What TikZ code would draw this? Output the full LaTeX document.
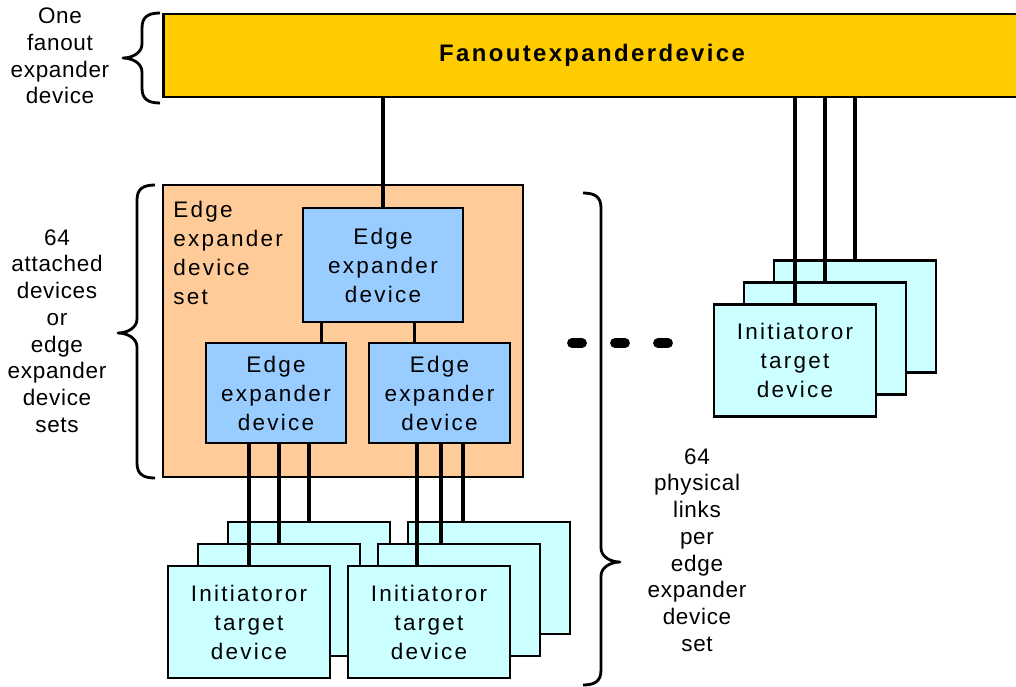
\documentclass[tikz,border=0pt]{standalone}
\usepackage{fontspec}
\setmainfont{Liberation Sans}
\newfontfamily\boxfont[LetterSpace=10]{Liberation Sans}
\newfontfamily\sidefont[LetterSpace=3]{Liberation Sans}
\usetikzlibrary{calc}

\definecolor{fanoutyellow}{HTML}{FFCC00}
\definecolor{setorange}{HTML}{FFCC99}
\definecolor{edgeblue}{HTML}{99CCFF}
\definecolor{cardcyan}{HTML}{CCFFFF}

\tikzset{
    every node/.style={inner sep=0pt, align=center},
    box/.style={draw, line width=2pt,
        font=\boxfont\fontsize{16}{20.6}\selectfont},
    edgebox/.style={box, fill=edgeblue},
    card/.style={box, fill=cardcyan, minimum width=4.05cm, minimum height=2.8cm},
    sidetext/.style={font=\sidefont\fontsize{16}{19}\selectfont}
}
\tikzset{
    wire/.style={draw, line width=2.2pt},
    curlybrace/.style={line width=2pt, line join=round},
    dotdash/.style={line width=7pt, line cap=round}
}

% three stacked cards, #2,#3 = centre of the front one
\newcommand{\cardstack}[3]{%
    \node[card] (#1-3) at (#2+60,#3-44) {};
    \node[card] (#1-2) at (#2+30,#3-22) {};
    \node[card] (#1-1) at (#2,#3) {Initiatoror\\target\\device};
}

% curly brace: end x, side (+1 / -1), top y, tip y, bottom y
\newcommand{\curly}[5]{%
    \draw[curlybrace] (#1,#3)
        .. controls ({#1+#2*12},#3) and ({#1+#2*18},#3+4) .. ({#1+#2*18},#3+15)
        -- ({#1+#2*18},#4-14)
        .. controls ({#1+#2*18},#4-5) and ({#1+#2*28},#4) .. ({#1+#2*37},#4)
        .. controls ({#1+#2*28},#4) and ({#1+#2*18},#4+5) .. ({#1+#2*18},#4+14)
        -- ({#1+#2*18},#5-15)
        .. controls ({#1+#2*18},#5-4) and ({#1+#2*12},#5) .. (#1,#5);
}

\begin{document}
\begin{tikzpicture}[x=0.025cm, y=-0.025cm]
    \clip (0,0) rectangle (1016,686);

    \node[box, fill=fanoutyellow, minimum width=21.4cm, minimum height=2.075cm,
        font=\boxfont\bfseries\fontsize{17}{20}\selectfont] (fanout) at (592,55.5)
        {Fanoutexpanderdevice};

    % edge expander device set
    \node[box, fill=setorange, minimum width=9cm, minimum height=7.3cm] (set) at (343,331) {};
    \node[box, draw=none, anchor=north west, align=left] (settext) at (172,200)
        {Edge\\expander\\device\\set};
    \node[edgebox, minimum width=4cm, minimum height=2.85cm] (topee) at (383,265)
        {Edge\\expander\\device};
    \node[edgebox, minimum width=3.5cm, minimum height=2.5cm] (eeL) at (276,393)
        {Edge\\expander\\device};
    \node[edgebox, minimum width=3.525cm, minimum height=2.5cm] (eeR) at (439.5,393)
        {Edge\\expander\\device};

    \cardstack{lt}{249}{622}
    \cardstack{rt}{429}{622}
    \cardstack{far}{795}{360.5}

    % physical links
    \path[wire] (topee.north) -- (topee.north |- fanout.south);
    \path[wire] ([xshift=5mm]topee.south west) coordinate (a) -- (a |- eeL.north);
    \path[wire] ([xshift=-12.5mm]topee.south east) coordinate (b) -- (b |- eeR.north);
    \foreach \k in {1,2,3}
        \path[wire] (lt-\k.north) -- (lt-\k.north |- eeL.south);
    \foreach \k/\dx in {1/-3mm,2/-4.5mm,3/-6.5mm}
        \path[wire] ([xshift=\dx]rt-\k.north) coordinate (c) -- (c |- eeR.south);
    \foreach \k in {1,2,3}
        \path[wire] (far-\k.north) -- (far-\k.north |- fanout.south);

    \foreach \x in {572,615,658}
        \draw[dotdash] (\x,343) -- ++(10,0);

    \curly{160}{-1}{13}{58}{103}
    \curly{155}{-1}{185}{333}{478}
    \curly{583}{1}{193}{562}{685}

    \node[sidetext] (fanoutnote) at (60,56) {One\\fanout\\expander\\device};
    \node[sidetext] (setnote) at (57,331)
        {64\\attached\\devices\\or\\edge\\expander\\device\\sets};
    \node[sidetext] (linknote) at (697,550)
        {64\\physical\\links\\per\\edge\\expander\\device\\set};
\end{tikzpicture}
\end{document}
